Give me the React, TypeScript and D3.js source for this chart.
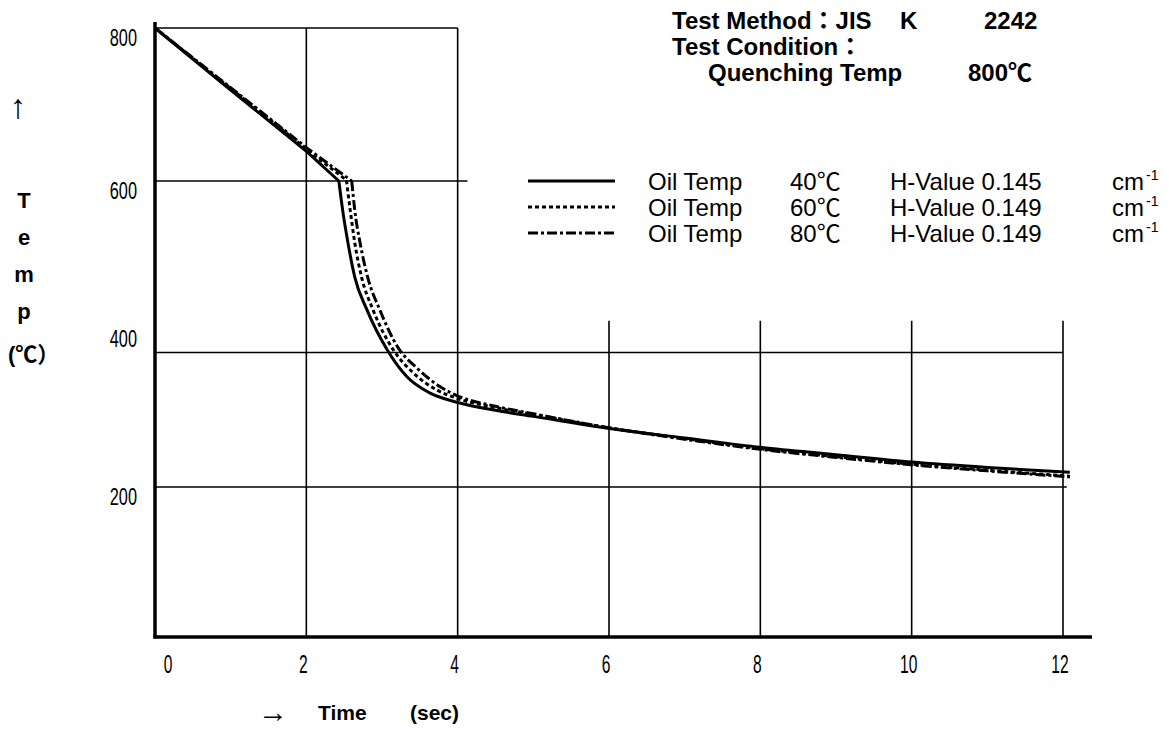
import React from 'react';
import * as d3 from 'd3';

// ---- data ----
const xTicks = [0, 2, 4, 6, 8, 10, 12];
const yTicks = [200, 400, 600, 800];
const yBreaks = [0, 200, 400, 600, 800];

// horizontal grid: value -> end time
const hGridValues = [200, 400, 600, 800];
const hGridEnds = [12.05, 12, 4.13, 4];
// vertical grid: time -> top temp
const vGridTimes = [2, 4, 6, 8, 10, 12];
const vGridTops = [800, 800, 437, 437, 437, 437];

// Oil 40℃ (solid)
const time40 = [0, 1, 2.01, 2.43, 2.48, 2.55, 2.64, 2.8, 3.07, 3.33, 3.63, 3.99, 4.5, 5, 6, 7, 8, 9, 10, 11, 12.09];
const temp40 = [800, 719, 638, 600, 566, 528, 488, 450, 403, 364, 340, 326, 314, 305, 287, 273, 259, 248, 237, 229, 222];
// Oil 60℃ (dotted)
const time60 = [0, 1, 2.01, 2.53, 2.58, 2.64, 2.73, 2.88, 3.15, 3.41, 3.73, 3.99, 4.5, 5, 6, 7, 8, 9, 10, 11, 12.09];
const temp60 = [800, 721, 641, 601, 566, 528, 488, 450, 403, 370, 344, 332, 318, 308, 288, 272, 257, 245, 234, 225, 216];
// Oil 80℃ (dash-dot)
const time80 = [0, 1, 2.01, 2.6, 2.64, 2.71, 2.81, 2.97, 3.21, 3.46, 3.77, 3.99, 4.5, 5, 6, 7, 8, 9, 10, 11, 12.09];
const temp80 = [800, 722, 643, 600, 566, 528, 488, 450, 406, 377, 349, 336, 320, 309, 288, 271, 256, 244, 233, 224, 215];

const kinkIndex = [3, 3, 3];

const legendTemps = ['40℃', '60℃', '80℃'];
const legendH = ['0.145', '0.149', '0.149'];

const FONT = "'Liberation Sans', Arial, 'Noto Sans CJK JP', sans-serif";

export default function App() {
  const x = d3.scaleLinear().domain([0, 12]).range([155, 1063]);
  const y = d3.scaleLinear().domain(yBreaks).range([637, 487, 352.5, 181, 28]);

  const straight = d3
    .line<[number, number]>()
    .x((d) => x(d[0]))
    .y((d) => y(d[1]))
    .curve(d3.curveLinear);
  const smooth = d3
    .line<[number, number]>()
    .x((d) => x(d[0]))
    .y((d) => y(d[1]))
    .curve(d3.curveMonotoneX);

  const zip = (a: number[], b: number[]) => a.map((v, i) => [v, b[i]] as [number, number]);
  const series = [
    { d: zip(time40, temp40), dash: undefined as string | undefined },
    { d: zip(time60, temp60), dash: '4,3' },
    { d: zip(time80, temp80), dash: '10,3,3,3' },
  ];

  const yLabelDy: Record<number, number> = { 800: 9.5, 600: 9.5, 400: -14, 200: 9 };
  const legendY = [181, 207, 233];

  return (
    <svg
      width={1169}
      height={731}
      style={{ position: 'absolute', left: 0, top: 0, background: '#fff', display: 'block' }}
      fontFamily={FONT}
    >
      <rect x={0} y={0} width={1169} height={731} fill="#fff" />
      {/* horizontal grid */}
      {hGridValues.map((v, i) => (
        <line key={'h' + v} x1={x(0)} x2={x(hGridEnds[i])} y1={y(v)} y2={y(v)} stroke="#000" strokeWidth={1.6} />
      ))}
      {/* vertical grid */}
      {vGridTimes.map((t, i) => (
        <line key={'v' + t} x1={x(t)} x2={x(t)} y1={y(vGridTops[i])} y2={y(0)} stroke="#000" strokeWidth={1.6} />
      ))}
      {/* axes */}
      <line x1={x(0)} x2={x(0)} y1={22} y2={y(0) + 1.5} stroke="#000" strokeWidth={3.5} />
      <line x1={x(0) - 1.5} x2={1092} y1={y(0)} y2={y(0)} stroke="#000" strokeWidth={3.5} />

      {/* y tick labels */}
      {yTicks.map((v) => (
        <text
          key={'yl' + v}
          transform={`translate(137,${y(v) + yLabelDy[v]}) scale(0.68,1)`}
          textAnchor="end"
          dominantBaseline="central"
          fontSize={24}
        >
          {v}
        </text>
      ))}
      {/* x tick labels */}
      {xTicks.map((t) => (
        <text
          key={'xl' + t}
          transform={`translate(${x(t) + (t === 0 ? 13 : -3)},665) scale(0.6,1)`}
          textAnchor="middle"
          dominantBaseline="central"
          fontSize={26}
        >
          {t}
        </text>
      ))}

      {/* curves: straight cooling to the kink, then smooth */}
      {series.map((s, i) => (
        <g key={'s' + i}>
          <path
            d={straight(s.d.slice(0, kinkIndex[i] + 1)) || ''}
            fill="none"
            stroke="#000"
            strokeWidth={3}
            strokeDasharray={s.dash}
          />
          <path
            d={smooth(s.d.slice(kinkIndex[i])) || ''}
            fill="none"
            stroke="#000"
            strokeWidth={3}
            strokeDasharray={s.dash}
            strokeLinejoin="round"
          />
        </g>
      ))}

      {/* y axis title */}
      <text x={18} y={106} textAnchor="middle" dominantBaseline="central" fontSize={34}>↑</text>
      {['T', 'e', 'm', 'p'].map((c, i) => (
        <text key={c} x={24} y={200 + i * 37} textAnchor="middle" dominantBaseline="central" fontSize={22} fontWeight="bold">
          {c}
        </text>
      ))}
      <text x={8} y={354} dominantBaseline="central" fontSize={22} fontWeight="bold">(℃）</text>

      {/* x axis title */}
      <text x={273} y={711} textAnchor="middle" dominantBaseline="central" fontSize={30}>→</text>
      <text x={318} y={712} dominantBaseline="central" fontSize={21} fontWeight="bold">Time</text>
      <text x={410} y={712} dominantBaseline="central" fontSize={21} fontWeight="bold">(sec)</text>

      {/* title */}
      <g fontSize={24} fontWeight="bold">
        <text x={672} y={29}>Test Method：JIS</text>
        <text x={900} y={29}>K</text>
        <text x={984} y={29}>2242</text>
        <text x={672} y={55}>Test Condition：</text>
        <text x={708} y={81}>Quenching Temp</text>
        <text x={968} y={81}>800℃</text>
      </g>

      {/* legend */}
      {series.map((s, i) => (
        <g key={'lg' + i}>
          <line x1={528} x2={615} y1={legendY[i]} y2={legendY[i]} stroke="#000" strokeWidth={3} strokeDasharray={s.dash} />
          <text x={648} y={legendY[i] + 8.5} fontSize={24}>Oil Temp</text>
          <text x={790} y={legendY[i] + 8.5} fontSize={24}>{legendTemps[i]}</text>
          <text x={890} y={legendY[i] + 8.5} fontSize={24}>H-Value {legendH[i]}</text>
          <text x={1112} y={legendY[i] + 8.5} fontSize={24}>cm</text>
          <text x={1146} y={legendY[i] - 1} fontSize={14}>-1</text>
        </g>
      ))}
    </svg>
  );
}
